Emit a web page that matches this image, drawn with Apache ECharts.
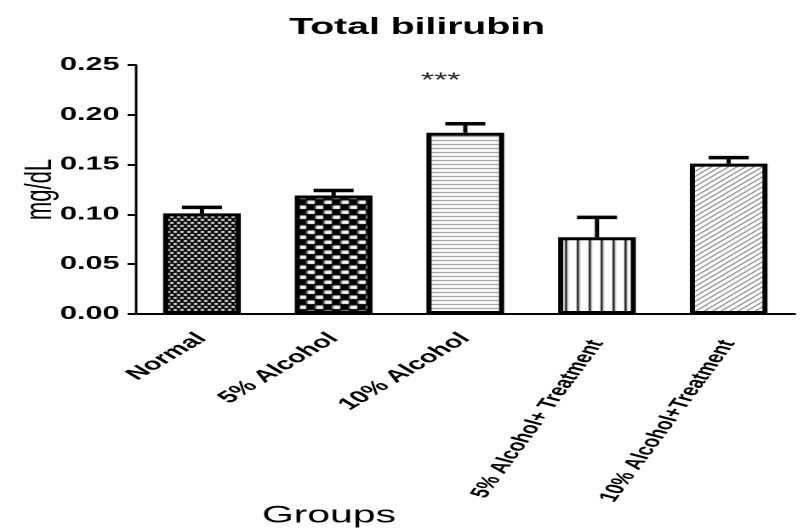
<!DOCTYPE html>
<html>
<head>
<meta charset="utf-8">
<script src="https://cdn.jsdelivr.net/npm/echarts@6/dist/echarts.min.js"></script>
<style>
  html, body { margin: 0; padding: 0; background: #fff; overflow: hidden; }
  /* the figure is laid out narrow and widened horizontally */
  #chart { width: 472px; height: 529px; transform: scaleX(1.7013); transform-origin: 0 0; }
</style>
</head>
<body>
<div id="chart"></div>
<script>
// Total bilirubin (mg/dL) per group: mean and upper error (SEM)
const categories = ['Normal', '5% Alcohol', '10% Alcohol', '5% Alcohol+ Treatment', '10% Alcohol+Treatment'];
const means = [0.101, 0.119, 0.182, 0.077, 0.151];
const errors = [0.006, 0.005, 0.009, 0.020, 0.006];
const significance = ['', '', '***', '', ''];
// the two long group names are set at a steeper slant
const steepLabel = [false, false, false, true, true];

// Small tiled canvases used as bar fills
function tile(w, h, draw) {
  const c = document.createElement('canvas');
  c.width = w; c.height = h;
  const ctx = c.getContext('2d');
  draw(ctx, w, h);
  return { image: c, repeat: 'repeat' };
}

const fills = [
  // fine white speckle on black
  tile(4, 6, (ctx, w, h) => {
    ctx.fillStyle = '#000'; ctx.fillRect(0, 0, w, h);
    ctx.fillStyle = '#fff';
    ctx.fillRect(0, 0, 2, 1.8);
    ctx.fillRect(2, 3, 2, 1.8);
  }),
  // staggered white bricks on black
  tile(10, 10, (ctx, w, h) => {
    ctx.fillStyle = '#000'; ctx.fillRect(0, 0, w, h);
    ctx.fillStyle = '#fff';
    ctx.fillRect(0.5, 0.5, 4.5, 3.5);
    ctx.fillRect(5.5, 5.5, 4.5, 3.5);
  }),
  // horizontal grey rules
  tile(2, 4, (ctx, w, h) => {
    ctx.fillStyle = '#fff'; ctx.fillRect(0, 0, w, h);
    ctx.fillStyle = '#8a8a8a'; ctx.fillRect(0, 0, w, 1);
  }),
  // vertical black rules
  tile(7, 2, (ctx, w, h) => {
    ctx.fillStyle = '#fff'; ctx.fillRect(0, 0, w, h);
    ctx.fillStyle = '#000'; ctx.fillRect(3, 0, 1.3, h);
  }),
  // forward diagonal hatching
  tile(5, 5, (ctx, w, h) => {
    ctx.fillStyle = '#fff'; ctx.fillRect(0, 0, w, h);
    ctx.strokeStyle = '#555'; ctx.lineWidth = 1;
    ctx.beginPath();
    ctx.moveTo(-1, h + 1); ctx.lineTo(w + 1, -1);
    ctx.moveTo(-1, 1); ctx.lineTo(1, -1);
    ctx.moveTo(w - 1, h + 1); ctx.lineTo(w + 1, h - 1);
    ctx.stroke();
  })
];

const FONT = '"Liberation Sans", Arial, Helvetica, sans-serif';
const labelFont = { fontFamily: FONT, fontSize: 17, fontWeight: 'bold', color: '#000' };

const chart = echarts.init(document.getElementById('chart'), null, { devicePixelRatio: 2 });

chart.setOption({
  backgroundColor: '#fff',
  animation: false,
  title: [
    {
      text: 'Total bilirubin',
      left: 165, top: 11,
      textStyle: { fontFamily: FONT, fontSize: 23, fontWeight: 'bold', color: '#000' }
    },
    {
      text: 'Groups',
      left: 149, top: 499,
      textStyle: { fontFamily: FONT, fontSize: 24, fontWeight: 'normal', color: '#000' }
    }
  ],
  grid: { left: 80, right: 5, top: 65, bottom: 215, containLabel: false, outerBoundsMode: 'none' },
  xAxis: [
    {
      type: 'category',
      data: categories,
      axisLine: { lineStyle: { color: '#000', width: 2 } },
      axisTick: { alignWithLabel: true, length: 5, lineStyle: { color: '#000', width: 1.8 } },
      axisLabel: Object.assign({
        interval: 0, rotate: 45, margin: 22,
        formatter: (v, i) => (steepLabel[i] ? '' : v)
      }, labelFont)
    },
    {
      type: 'category',
      position: 'bottom',
      data: categories,
      axisLine: { show: false },
      axisTick: { show: false },
      axisLabel: Object.assign({
        interval: 0, rotate: 66, margin: 27,
        formatter: (v, i) => (steepLabel[i] ? v : '')
      }, labelFont, { fontSize: 15.5 })
    }
  ],
  yAxis: {
    type: 'value',
    min: 0, max: 0.25, interval: 0.05,
    name: 'mg/dL',
    nameLocation: 'middle', nameRotate: 90, nameGap: 45,
    nameMoveOverlap: false,
    nameTextStyle: { fontFamily: FONT, fontSize: 22, color: '#000' },
    axisLine: { show: true, lineStyle: { color: '#000', width: 1.5 } },
    axisTick: { show: true, length: 5, lineStyle: { color: '#000', width: 2 } },
    splitLine: { show: false },
    axisLabel: {
      margin: 9.7,
      fontFamily: FONT, fontSize: 18, fontWeight: 'bold', color: '#000',
      formatter: v => v.toFixed(2)
    }
  },
  series: [
    {
      type: 'bar',
      barWidth: '59%',
      data: means.map((v, i) => ({
        value: v,
        itemStyle: { color: fills[i], borderColor: '#000', borderWidth: 3 }
      })),
      z: 2
    },
    {
      type: 'custom',
      z: 3,
      data: means.map((v, i) => [i, v, errors[i]]),
      renderItem(params, api) {
        const i = api.value(0), m = api.value(1), e = api.value(2);
        const base = api.coord([i, m]);
        const top = api.coord([i, m + e]);
        const half = api.size([1, 0])[0] * 0.152;
        const children = [
          { type: 'line', shape: { x1: top[0], y1: base[1], x2: top[0], y2: top[1] },
            style: { stroke: '#000', lineWidth: 2.5 } },
          { type: 'line', shape: { x1: top[0] - half, y1: top[1], x2: top[0] + half, y2: top[1] },
            style: { stroke: '#000', lineWidth: 3.5 } }
        ];
        const note = significance[i];
        if (note) {
          children.push({
            type: 'text', x: top[0] - 14.5, y: top[1] - 43,
            style: { text: note, fontFamily: FONT, fontSize: 20, fill: '#222',
                     align: 'center', verticalAlign: 'middle' }
          });
        }
        return { type: 'group', children };
      }
    }
  ]
});
</script>
</body>
</html>
